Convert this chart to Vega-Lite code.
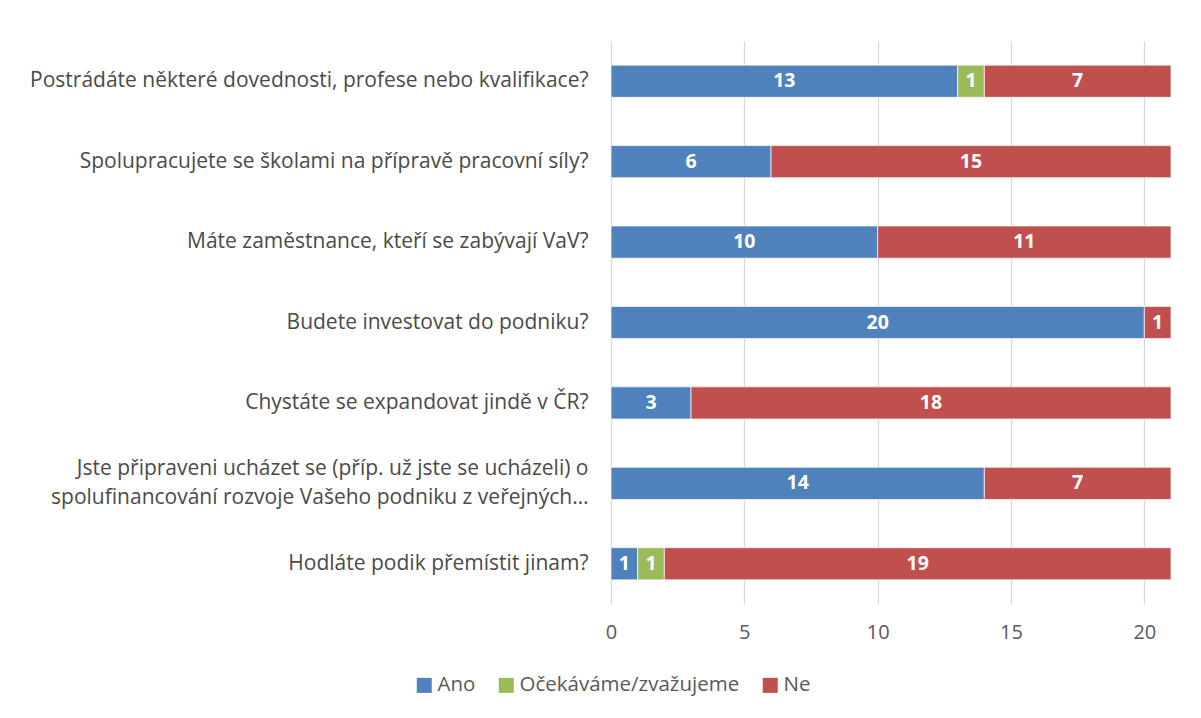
{
  "$schema": "https://vega.github.io/schema/vega-lite/v6.json",
  "autosize": {"type": "none"},
  "padding": {"left": 611, "top": 41, "right": 30, "bottom": 114},
  "width": 560,
  "height": 563,
  "background": "white",
  "config": {"font": "Open Sans", "view": {"stroke": null}},
  "data": {"values": [
    {"q": "Postrádáte některé dovednosti, profese nebo kvalifikace?", "k": 1, "s": "Ano", "value": 13},
    {"q": "Postrádáte některé dovednosti, profese nebo kvalifikace?", "k": 2, "s": "Očekáváme/zvažujeme", "value": 1},
    {"q": "Postrádáte některé dovednosti, profese nebo kvalifikace?", "k": 3, "s": "Ne", "value": 7},
    {"q": "Spolupracujete se školami na přípravě pracovní síly?", "k": 1, "s": "Ano", "value": 6},
    {"q": "Spolupracujete se školami na přípravě pracovní síly?", "k": 3, "s": "Ne", "value": 15},
    {"q": "Máte zaměstnance, kteří se zabývají VaV?", "k": 1, "s": "Ano", "value": 10},
    {"q": "Máte zaměstnance, kteří se zabývají VaV?", "k": 3, "s": "Ne", "value": 11},
    {"q": "Budete investovat do podniku?", "k": 1, "s": "Ano", "value": 20},
    {"q": "Budete investovat do podniku?", "k": 3, "s": "Ne", "value": 1},
    {"q": "Chystáte se expandovat jindě v ČR?", "k": 1, "s": "Ano", "value": 3},
    {"q": "Chystáte se expandovat jindě v ČR?", "k": 3, "s": "Ne", "value": 18},
    {"q": "Jste připraveni ucházet se (příp. už jste se ucházeli) o\nspolufinancování rozvoje Vašeho podniku z veřejných…", "k": 1, "s": "Ano", "value": 14},
    {"q": "Jste připraveni ucházet se (příp. už jste se ucházeli) o\nspolufinancování rozvoje Vašeho podniku z veřejných…", "k": 3, "s": "Ne", "value": 7},
    {"q": "Hodláte podik přemístit jinam?", "k": 1, "s": "Ano", "value": 1},
    {"q": "Hodláte podik přemístit jinam?", "k": 2, "s": "Očekáváme/zvažujeme", "value": 1},
    {"q": "Hodláte podik přemístit jinam?", "k": 3, "s": "Ne", "value": 19}
  ]},
  "transform": [
    {"stack": "value", "groupby": ["q"], "sort": [{"field": "k"}], "as": ["x0", "x1"]},
    {"calculate": "(datum.x0 + datum.x1) / 2", "as": "mid"}
  ],
  "encoding": {
    "y": {
      "field": "q", "type": "nominal", "sort": null, "title": null,
      "scale": {"paddingInner": 0.6, "paddingOuter": 0.3},
      "axis": {"domain": false, "ticks": false, "labelPadding": 23, "labelFontSize": 21, "labelColor": "#4a4a4a", "labelLimit": 700, "labelLineHeight": 29,
        "labelOffset": {"condition": {"test": "indexof(datum.value, 'Jste') == 0", "value": -14}, "value": 0},
        "labelExpr": "split(datum.label, '\\n')"}
    }
  },
  "layer": [
    {
      "mark": {"type": "bar", "stroke": "white", "strokeWidth": 0.7},
      "encoding": {
        "x": {"field": "x0", "type": "quantitative", "title": null,
          "scale": {"domain": [0, 21], "nice": false},
          "axis": {"values": [0, 5, 10, 15, 20], "domain": false, "ticks": false, "grid": true, "gridColor": "#d9d9d9", "gridWidth": 1.3, "labelFontSize": 20, "labelColor": "#595959", "labelPadding": 18, "labelFlush": false}},
        "x2": {"field": "x1"},
        "color": {"field": "s", "type": "nominal",
          "scale": {"domain": ["Ano", "Očekáváme/zvažujeme", "Ne"], "range": ["#4F81BD", "#9BBB59", "#C0504D"]},
          "legend": {"title": null, "orient": "none", "direction": "horizontal", "legendX": -197, "legendY": 634, "symbolType": "square", "symbolSize": 225, "symbolStrokeWidth": 0, "symbolOpacity": 1, "labelFontSize": 20.5, "labelColor": "#595959", "labelOffset": 3, "columnPadding": 20, "labelLimit": 400}
        }
      }
    },
    {
      "mark": {"type": "text", "color": "white", "fontWeight": "bold", "fontSize": 19.5, "baseline": "middle", "align": "center"},
      "encoding": {
        "x": {"field": "mid", "type": "quantitative"},
        "text": {"field": "value", "type": "quantitative"}
      }
    }
  ]
}
